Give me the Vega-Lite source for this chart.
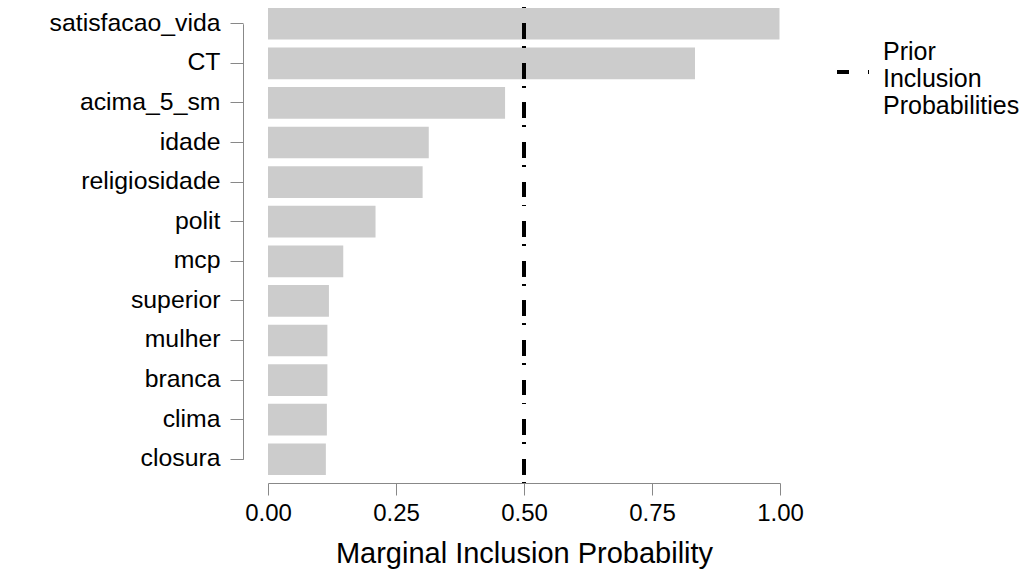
{
  "$schema": "https://vega.github.io/schema/vega-lite/v6.json",
  "width": 512,
  "height": 483,
  "autosize": {"type": "none"},
  "padding": {"left": 268, "top": 0, "right": 244, "bottom": 102},
  "background": "white",
  "config": {
    "view": {"stroke": null},
    "font": "Liberation Sans",
    "axis": {"grid": false, "domainColor": "#888888", "tickColor": "#888888", "labelColor": "black", "titleColor": "black", "labelFont": "Liberation Sans", "titleFont": "Liberation Sans", "titleFontWeight": "normal"}
  },
  "data": {
    "values": [
      {"variable": "satisfacao_vida", "prob": 0.999},
      {"variable": "CT", "prob": 0.834},
      {"variable": "acima_5_sm", "prob": 0.463},
      {"variable": "idade", "prob": 0.314},
      {"variable": "religiosidade", "prob": 0.302},
      {"variable": "polit", "prob": 0.210},
      {"variable": "mcp", "prob": 0.147},
      {"variable": "superior", "prob": 0.119},
      {"variable": "mulher", "prob": 0.116},
      {"variable": "branca", "prob": 0.116},
      {"variable": "clima", "prob": 0.115},
      {"variable": "closura", "prob": 0.113}
    ]
  },
  "layer": [
    {
      "mark": {"type": "bar", "color": "#cccccc"},
      "encoding": {
        "y": {
          "field": "variable", "type": "nominal", "sort": null,
          "scale": {"paddingInner": 0.2, "paddingOuter": 0.2},
          "axis": {
            "title": null, "offset": 25, "tickSize": 13, "labelPadding": 10, "labelFontSize": 24.8,
            "domainDash": [0, 23.75, 435.5, 200]
          }
        },
        "x": {
          "field": "prob", "type": "quantitative",
          "scale": {"domain": [0, 1], "nice": false, "zero": true},
          "axis": {
            "title": "Marginal Inclusion Probability", "values": [0, 0.25, 0.5, 0.75, 1], "format": ".2f",
            "labelFlush": false,
            "tickSize": 12, "labelPadding": 6, "labelFontSize": 24, "titleFontSize": 29, "titlePadding": 14
          }
        }
      }
    },
    {
      "mark": {"type": "rule", "strokeWidth": 4, "strokeDash": [15, 8, 1, 15.6], "strokeDashOffset": 16},
      "encoding": {
        "x": {"datum": 0.5, "type": "quantitative"},
        "stroke": {
          "datum": "Prior Inclusion Probabilities", "type": "nominal",
          "scale": {"range": ["black"]},
          "legend": {
            "title": null, "orient": "none", "legendX": 567, "legendY": 54, "padding": 0,
            "symbolType": "stroke", "symbolSize": 1024, "symbolStrokeWidth": 4, "symbolDash": [12, 19, 1, 100],
            "symbolStrokeColor": "black",
            "labelExpr": "['Prior', 'Inclusion', 'Probabilities']",
            "labelFontSize": 25, "labelColor": "black", "labelLimit": 300, "labelOffset": 12,
            "encode": {"labels": {"update": {"dy": {"value": -20}}}}
          }
        }
      }
    }
  ]
}
